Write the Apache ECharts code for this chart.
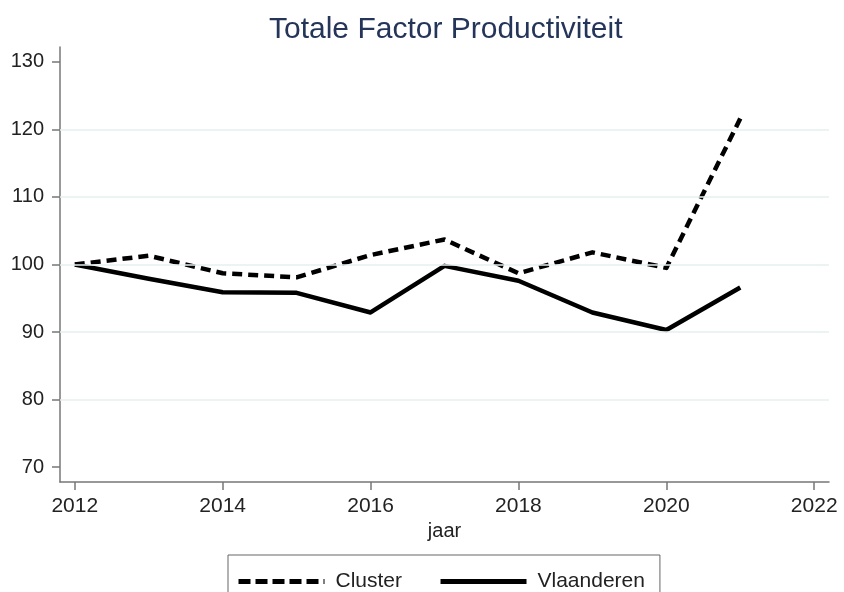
<!DOCTYPE html>
<html>
<head>
<meta charset="utf-8">
<script src="https://cdn.jsdelivr.net/npm/echarts@6/dist/echarts.min.js"></script>
<style>
  html, body { margin: 0; padding: 0; background: #fff; }
  #chart { width: 844px; height: 592px; }
</style>
</head>
<body>
<div id="chart"></div>
<script>
var years = [2012, 2013, 2014, 2015, 2016, 2017, 2018, 2019, 2020, 2021];
var cluster = [100, 101.3, 98.7, 98.1, 101.4, 103.7, 98.7, 101.8, 99.5, 121.6];
var vlaanderen = [100, 97.9, 95.9, 95.8, 92.9, 99.8, 97.6, 92.9, 90.3, 96.6];

var xTicks = [2012, 2014, 2016, 2018, 2020, 2022];
var yTicks = [70, 80, 90, 100, 110, 120, 130];
var gridValues = [80, 90, 100, 110, 120];

function pairs(values) {
    var out = [];
    years.forEach(function(y, i) {
        out.push([y, values[i]]);
    });
    return out;
}

var chart = echarts.init(document.getElementById('chart'));
var font = 'Liberation Sans, Arial, sans-serif';

var option = {
    animation: false,
    title: {
        text: 'Totale Factor Productiviteit',
        left: 264,
        top: 10,
        textStyle: { fontFamily: font, fontSize: 30, fontWeight: 'normal', color: '#243559' }
    },
    grid: { left: 60, right: 15, top: 47, bottom: 110 },
    xAxis: {
        type: 'value',
        min: 2011.8,
        max: 2022.2,
        name: 'jaar',
        nameLocation: 'middle',
        nameGap: 39,
        nameTextStyle: { fontFamily: font, fontSize: 20, color: '#222' },
        axisLine: { lineStyle: { color: '#777', width: 1.5 } },
        axisTick: { show: true, customValues: xTicks, length: 8, lineStyle: { color: '#777', width: 1.5 } },
        axisLabel: {
            customValues: xTicks,
            margin: 14,
            fontFamily: font,
            fontSize: 21,
            color: '#222',
            formatter: function(v) { return String(v); }
        },
        splitLine: { show: false }
    },
    yAxis: {
        type: 'value',
        min: 67.8,
        max: 132.2,
        axisLine: { show: true, lineStyle: { color: '#777', width: 1.5 } },
        axisTick: { show: true, customValues: yTicks, length: 8, lineStyle: { color: '#777', width: 1.5 } },
        axisLabel: {
            customValues: yTicks,
            margin: 16,
            fontFamily: font,
            fontSize: 20,
            color: '#222'
        },
        splitLine: { show: false }
    },
    legend: {
        data: [
            { name: 'Cluster', lineStyle: { width: 5, type: [12, 5], color: '#000' } },
            { name: 'Vlaanderen', lineStyle: { width: 5, type: 'solid', color: '#000' } }
        ],
        left: 228,
        top: 555,
        orient: 'horizontal',
        itemWidth: 86,
        itemHeight: 14,
        itemGap: 36,
        padding: [16, 15, 16, 8],
        borderColor: '#666',
        borderWidth: 1,
        itemStyle: { color: 'rgba(0,0,0,0)', borderColor: 'rgba(0,0,0,0)', borderWidth: 0 },
        textStyle: { fontFamily: font, fontSize: 21, color: '#222', padding: [0, 0, 0, 6] }
    },
    series: [
        {
            name: 'grid',
            type: 'line',
            data: [],
            silent: true,
            z: 1,
            markLine: {
                silent: true,
                symbol: 'none',
                label: { show: false },
                lineStyle: { color: '#e6efef', width: 1.5, type: 'solid' },
                data: gridValues.map(function(v) { return { yAxis: v }; })
            }
        },
        {
            name: 'Cluster',
            type: 'line',
            data: pairs(cluster),
            symbol: 'none',
            z: 3,
            itemStyle: { color: '#000' },
            lineStyle: { color: '#000', width: 4.5, type: [10, 6], join: 'round' }
        },
        {
            name: 'Vlaanderen',
            type: 'line',
            data: pairs(vlaanderen),
            symbol: 'none',
            z: 3,
            itemStyle: { color: '#000' },
            lineStyle: { color: '#000', width: 4.5, type: 'solid', join: 'round' }
        }
    ]
};

chart.setOption(option);
</script>
</body>
</html>
